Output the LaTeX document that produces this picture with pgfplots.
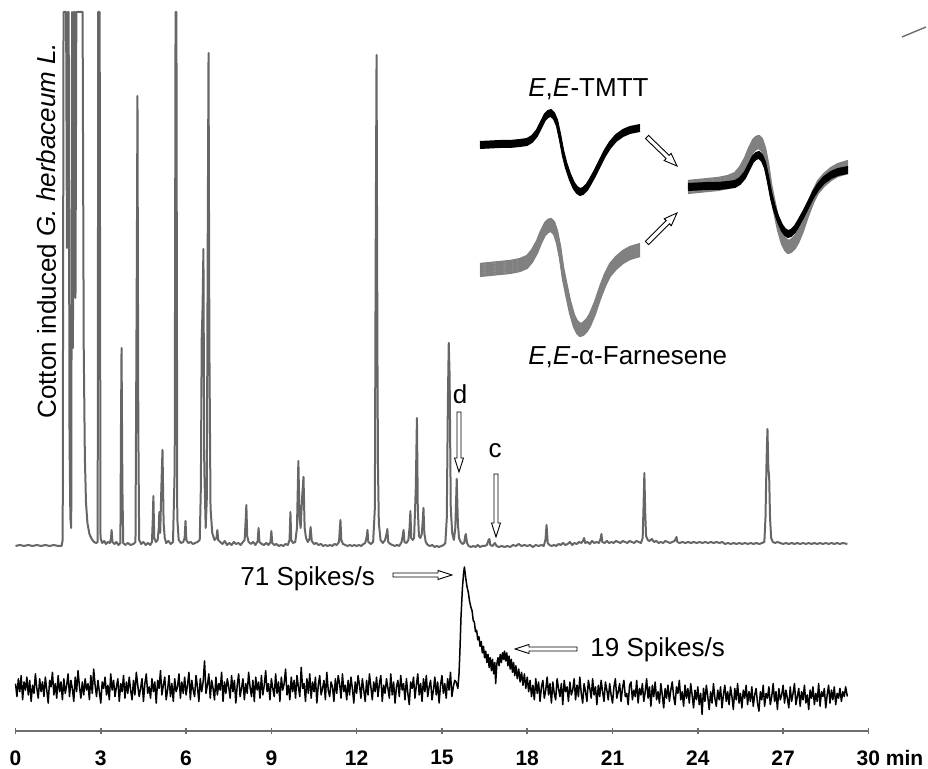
\documentclass[border=0pt]{standalone}
\usepackage{fontspec}
\setmainfont{Liberation Sans}
\usepackage{pgfplots}
\usepackage{pgfplotstable}
\pgfplotsset{compat=1.18}

\definecolor{gctrace}{RGB}{102,102,102}
\definecolor{axisgray}{RGB}{110,110,110}
\definecolor{farngray}{RGB}{128,128,128}

% GC-FID trace: retention time (min), detector response above baseline (a.u.)
\pgfplotstableread[row sep=\\]{
t g\\
0.00 2\\ 0.15 3\\ 0.30 2\\ 0.45 3\\ 0.60 2\\ 0.75 3\\ 0.90 2\\ 1.05 3\\ 1.20 2\\ 1.35 3\\ 1.50 2\\ 1.62 2\\
1.66 8\\ 1.69 536\\ 1.78 536\\ 1.81 300\\ 1.84 536\\ 1.87 536\\ 1.90 110\\ 1.93 30\\ 1.96 20\\ 1.99 536\\
2.02 200\\ 2.05 536\\ 2.08 536\\ 2.11 250\\ 2.14 536\\ 2.36 536\\ 2.40 200\\ 2.44 90\\ 2.48 45\\ 2.53 25\\
2.60 14\\ 2.68 9\\ 2.76 6\\ 2.84 5\\ 2.89 6\\ 2.91 536\\ 2.96 536\\ 2.99 10\\ 3.05 5\\ 3.12 7\\ 3.18 4\\
3.25 6\\ 3.32 5\\ 3.36 10\\ 3.38 18\\ 3.41 6\\ 3.48 4\\ 3.55 6\\ 3.62 3\\ 3.69 5\\ 3.71 120\\ 3.73 200\\
3.76 60\\ 3.79 5\\ 3.86 3\\ 3.95 5\\ 4.05 3\\ 4.15 4\\ 4.22 6\\ 4.27 300\\ 4.29 452\\ 4.32 120\\ 4.35 8\\
4.42 4\\ 4.50 6\\ 4.58 3\\ 4.66 5\\ 4.74 3\\ 4.80 6\\ 4.83 30\\ 4.85 52\\ 4.88 10\\ 4.94 6\\ 5.00 8\\
5.04 20\\ 5.06 36\\ 5.09 15\\ 5.13 60\\ 5.17 98\\ 5.21 25\\ 5.25 10\\ 5.30 5\\ 5.38 7\\ 5.46 4\\ 5.54 6\\
5.60 80\\ 5.63 536\\ 5.66 536\\ 5.69 30\\ 5.74 8\\ 5.82 5\\ 5.90 6\\ 5.95 10\\ 5.98 27\\ 6.01 8\\ 6.08 5\\
6.16 6\\ 6.24 4\\ 6.32 5\\ 6.40 6\\ 6.48 8\\ 6.52 60\\ 6.55 209\\ 6.58 240\\ 6.61 299\\ 6.64 80\\ 6.69 20\\
6.73 50\\ 6.76 300\\ 6.79 495\\ 6.82 200\\ 6.86 40\\ 6.92 15\\ 7.00 8\\ 7.07 10\\ 7.10 18\\ 7.13 8\\
7.20 6\\ 7.28 4\\ 7.36 7\\ 7.44 3\\ 7.52 5\\ 7.60 3\\ 7.68 6\\ 7.76 4\\ 7.84 5\\ 7.92 3\\ 8.00 6\\ 8.06 8\\
8.10 30\\ 8.12 43\\ 8.15 12\\ 8.20 6\\ 8.28 4\\ 8.36 6\\ 8.44 3\\ 8.52 7\\ 8.55 20\\ 8.58 6\\ 8.66 4\\
8.74 3\\ 8.82 5\\ 8.90 3\\ 8.97 6\\ 9.00 17\\ 9.03 5\\ 9.10 3\\ 9.18 4\\ 9.26 2\\ 9.34 3\\ 9.42 2\\ 9.50 4\\
9.58 3\\ 9.64 8\\ 9.67 36\\ 9.70 8\\ 9.76 5\\ 9.84 6\\ 9.90 20\\ 9.95 87\\ 9.99 30\\ 10.03 20\\ 10.08 50\\
10.13 71\\ 10.17 20\\ 10.22 10\\ 10.28 6\\ 10.34 9\\ 10.38 21\\ 10.42 7\\ 10.50 4\\ 10.58 5\\ 10.66 3\\
10.74 4\\ 10.82 2\\ 10.90 3\\ 10.98 2\\ 11.06 3\\ 11.14 2\\ 11.22 4\\ 11.30 3\\ 11.38 6\\ 11.41 20\\
11.43 28\\ 11.46 8\\ 11.52 4\\ 11.60 3\\ 11.68 2\\ 11.76 3\\ 11.84 2\\ 11.92 3\\ 12.00 2\\ 12.08 3\\
12.16 2\\ 12.24 4\\ 12.30 5\\ 12.36 12\\ 12.38 18\\ 12.41 6\\ 12.50 4\\ 12.58 6\\ 12.64 40\\ 12.67 300\\
12.70 493\\ 12.73 200\\ 12.75 80\\ 12.78 25\\ 12.84 8\\ 12.92 5\\ 13.00 8\\ 13.05 14\\ 13.08 19\\ 13.11 6\\
13.18 4\\ 13.26 3\\ 13.34 2\\ 13.42 3\\ 13.50 2\\ 13.58 6\\ 13.62 12\\ 13.65 18\\ 13.68 6\\ 13.75 5\\
13.82 8\\ 13.86 20\\ 13.89 37\\ 13.92 10\\ 13.97 8\\ 14.02 10\\ 14.08 60\\ 14.12 130\\ 14.15 40\\ 14.19 12\\
14.24 10\\ 14.29 14\\ 14.32 25\\ 14.35 40\\ 14.38 15\\ 14.43 6\\ 14.50 3\\ 14.58 2\\ 14.66 3\\ 14.74 1\\
14.82 2\\ 14.90 1\\ 14.98 2\\ 15.06 3\\ 15.12 5\\ 15.17 30\\ 15.21 150\\ 15.24 205\\ 15.27 172\\ 15.31 40\\
15.36 15\\ 15.42 8\\ 15.47 20\\ 15.52 69\\ 15.56 25\\ 15.60 10\\ 15.66 6\\ 15.72 4\\ 15.78 5\\ 15.82 12\\
15.84 14\\ 15.88 5\\ 15.94 2\\ 16.02 1\\ 16.10 2\\ 16.18 1\\ 16.26 3\\ 16.34 1\\ 16.42 2\\ 16.50 2\\
16.58 3\\ 16.64 8\\ 16.67 9\\ 16.70 3\\ 16.78 2\\ 16.86 5\\ 16.88 4\\ 16.92 2\\ 17.00 1\\ 17.10 2\\
17.20 1\\ 17.30 2\\ 17.40 1\\ 17.50 3\\ 17.60 2\\ 17.70 4\\ 17.80 2\\ 17.90 3\\ 18.00 2\\ 18.10 3\\
18.20 1\\ 18.30 3\\ 18.40 2\\ 18.50 3\\ 18.58 2\\ 18.64 8\\ 18.68 23\\ 18.72 5\\ 18.78 3\\ 18.86 2\\
18.94 3\\ 19.02 2\\ 19.10 4\\ 19.18 3\\ 19.26 5\\ 19.34 3\\ 19.42 4\\ 19.50 6\\ 19.58 3\\ 19.66 5\\
19.74 4\\ 19.82 6\\ 19.90 5\\ 19.96 7\\ 20.00 10\\ 20.04 5\\ 20.12 6\\ 20.20 4\\ 20.28 7\\ 20.36 5\\
20.44 6\\ 20.52 5\\ 20.58 9\\ 20.61 14\\ 20.64 6\\ 20.72 5\\ 20.80 7\\ 20.88 5\\ 20.96 6\\ 21.04 5\\
21.12 7\\ 21.20 6\\ 21.28 5\\ 21.36 7\\ 21.44 6\\ 21.52 5\\ 21.60 7\\ 21.68 6\\ 21.76 5\\ 21.84 7\\
21.92 6\\ 22.00 5\\ 22.06 10\\ 22.09 40\\ 22.12 75\\ 22.15 35\\ 22.18 12\\ 22.24 8\\ 22.30 7\\ 22.38 9\\
22.46 6\\ 22.54 7\\ 22.62 5\\ 22.70 6\\ 22.78 5\\ 22.86 7\\ 22.94 6\\ 23.02 5\\ 23.10 6\\ 23.18 7\\
23.22 9\\ 23.25 11\\ 23.28 6\\ 23.36 5\\ 23.46 6\\ 23.56 5\\ 23.66 6\\ 23.76 5\\ 23.86 6\\ 23.96 5\\
24.06 6\\ 24.16 5\\ 24.26 6\\ 24.36 5\\ 24.46 6\\ 24.56 5\\ 24.66 6\\ 24.76 5\\ 24.86 6\\ 24.96 4\\
25.06 5\\ 25.16 4\\ 25.26 5\\ 25.36 4\\ 25.46 5\\ 25.56 4\\ 25.66 5\\ 25.76 4\\ 25.86 5\\ 25.96 4\\
26.06 5\\ 26.16 4\\ 26.26 5\\ 26.34 6\\ 26.38 30\\ 26.42 90\\ 26.45 119\\ 26.48 80\\ 26.51 71\\ 26.54 30\\
26.58 10\\ 26.64 6\\ 26.72 5\\ 26.80 6\\ 26.90 5\\ 27.00 4\\ 27.10 5\\ 27.20 4\\ 27.30 5\\ 27.40 4\\
27.50 5\\ 27.60 4\\ 27.70 5\\ 27.80 4\\ 27.90 5\\ 28.00 4\\ 28.10 5\\ 28.20 4\\ 28.30 5\\ 28.40 4\\
28.50 5\\ 28.60 4\\ 28.70 5\\ 28.80 4\\ 28.90 5\\ 29.00 4\\ 29.10 5\\ 29.26 4\\
}\gcdata

% Single-sensillum recording: firing rate relative to baseline (spikes/s)
\pgfplotstableread[row sep=\\]{
t r\\
0.00 -1\\ 0.05 -9\\ 0.10 2\\ 0.15 -6\\ 0.20 4\\ 0.25 -11\\ 0.30 0\\ 0.35 -5\\ 0.40 3\\ 0.45 -8\\
0.50 1\\ 0.55 -12\\ 0.60 -2\\ 0.65 -7\\ 0.70 5\\ 0.75 -4\\ 0.80 -10\\ 0.85 2\\ 0.90 -6\\ 0.95 0\\
1.00 -9\\ 1.05 3\\ 1.10 -5\\ 1.15 -13\\ 1.20 1\\ 1.25 -3\\ 1.30 6\\ 1.35 -8\\ 1.40 -1\\ 1.45 -10\\
1.50 4\\ 1.55 -6\\ 1.60 0\\ 1.65 -11\\ 1.70 2\\ 1.75 -7\\ 1.80 -2\\ 1.85 5\\ 1.90 -9\\ 1.95 1\\
2.00 -4\\ 2.05 -12\\ 2.10 3\\ 2.15 -6\\ 2.20 7\\ 2.25 -3\\ 2.30 -10\\ 2.35 0\\ 2.40 -8\\ 2.45 2\\
2.50 -5\\ 2.55 -1\\ 2.60 -11\\ 2.65 4\\ 2.70 -7\\ 2.75 8\\ 2.80 -2\\ 2.85 -9\\ 2.90 1\\ 2.95 -6\\
3.00 -13\\ 3.05 0\\ 3.10 -4\\ 3.15 3\\ 3.20 -8\\ 3.25 -2\\ 3.30 -11\\ 3.35 5\\ 3.40 -5\\ 3.45 1\\
3.50 -9\\ 3.55 -3\\ 3.60 2\\ 3.65 -12\\ 3.70 -1\\ 3.75 -6\\ 3.80 4\\ 3.85 -10\\ 3.90 0\\ 3.95 -7\\
4.00 3\\ 4.05 -5\\ 4.10 -11\\ 4.15 1\\ 4.20 -8\\ 4.25 6\\ 4.30 -2\\ 4.35 -9\\ 4.40 -4\\ 4.45 2\\
4.50 -12\\ 4.55 -1\\ 4.60 5\\ 4.65 -7\\ 4.70 -3\\ 4.75 -10\\ 4.80 2\\ 4.85 -6\\ 4.90 0\\ 4.95 -13\\
5.00 1\\ 5.05 -4\\ 5.10 7\\ 5.15 -8\\ 5.20 -2\\ 5.25 3\\ 5.30 -11\\ 5.35 -5\\ 5.40 4\\ 5.45 -9\\
5.50 -1\\ 5.55 -12\\ 5.60 2\\ 5.65 -6\\ 5.70 -3\\ 5.75 5\\ 5.80 -10\\ 5.85 0\\ 5.90 -7\\ 5.95 3\\
6.00 -8\\ 6.05 -2\\ 6.10 6\\ 6.15 -11\\ 6.20 1\\ 6.25 -5\\ 6.30 -9\\ 6.35 4\\ 6.40 -3\\ 6.45 -12\\
6.50 2\\ 6.55 -6\\ 6.60 0\\ 6.65 13\\ 6.70 -7\\ 6.75 -2\\ 6.80 5\\ 6.85 -10\\ 6.90 1\\ 6.95 -4\\
7.00 -11\\ 7.05 3\\ 7.10 -8\\ 7.15 -1\\ 7.20 -5\\ 7.25 6\\ 7.30 -12\\ 7.35 0\\ 7.40 -7\\ 7.45 2\\
7.50 -3\\ 7.55 -10\\ 7.60 4\\ 7.65 -6\\ 7.70 1\\ 7.75 -13\\ 7.80 -2\\ 7.85 5\\ 7.90 -9\\ 7.95 -4\\
8.00 2\\ 8.05 -11\\ 8.10 -1\\ 8.15 -7\\ 8.20 6\\ 8.25 -3\\ 8.30 -9\\ 8.35 1\\ 8.40 -12\\ 8.45 3\\
8.50 -5\\ 8.55 0\\ 8.60 -10\\ 8.65 4\\ 8.70 -8\\ 8.75 -2\\ 8.80 7\\ 8.85 -6\\ 8.90 -1\\ 8.95 -11\\
9.00 2\\ 9.05 -4\\ 9.10 -9\\ 9.15 5\\ 9.20 -7\\ 9.25 0\\ 9.30 -12\\ 9.35 3\\ 9.40 -5\\ 9.45 -1\\
9.50 8\\ 9.55 -8\\ 9.60 -2\\ 9.65 -11\\ 9.70 3\\ 9.75 -6\\ 9.80 1\\ 9.85 -10\\ 9.90 4\\ 9.95 -3\\
10.00 -9\\ 10.05 9\\ 10.10 -4\\ 10.15 -1\\ 10.20 -12\\ 10.25 2\\ 10.30 -7\\ 10.35 5\\ 10.40 -10\\ 10.45 0\\
10.50 -6\\ 10.55 3\\ 10.60 -13\\ 10.65 -2\\ 10.70 4\\ 10.75 -8\\ 10.80 -4\\ 10.85 1\\ 10.90 -11\\ 10.95 6\\
11.00 -5\\ 11.05 -9\\ 11.10 0\\ 11.15 -3\\ 11.20 -12\\ 11.25 2\\ 11.30 -7\\ 11.35 4\\ 11.40 -1\\ 11.45 -10\\
11.50 5\\ 11.55 -6\\ 11.60 -2\\ 11.65 -11\\ 11.70 1\\ 11.75 -8\\ 11.80 3\\ 11.85 -4\\ 11.90 -13\\ 11.95 0\\
12.00 -7\\ 12.05 4\\ 12.10 -2\\ 12.15 -10\\ 12.20 2\\ 12.25 -5\\ 12.30 -12\\ 12.35 1\\ 12.40 -8\\ 12.45 5\\
12.50 -3\\ 12.55 -11\\ 12.60 0\\ 12.65 -6\\ 12.70 3\\ 12.75 -9\\ 12.80 -1\\ 12.85 4\\ 12.90 -12\\ 12.95 -2\\
13.00 -7\\ 13.05 2\\ 13.10 -4\\ 13.15 -10\\ 13.20 5\\ 13.25 -8\\ 13.30 0\\ 13.35 -13\\ 13.40 -3\\ 13.45 1\\
13.50 -9\\ 13.55 4\\ 13.60 -5\\ 13.65 -1\\ 13.70 -11\\ 13.75 2\\ 13.80 -7\\ 13.85 -14\\ 13.90 0\\ 13.95 -4\\
14.00 3\\ 14.05 -10\\ 14.10 -2\\ 14.15 5\\ 14.20 -8\\ 14.25 -1\\ 14.30 -12\\ 14.35 2\\ 14.40 -6\\ 14.45 4\\
14.50 -9\\ 14.55 -3\\ 14.60 1\\ 14.65 -11\\ 14.70 -5\\ 14.75 3\\ 14.80 -8\\ 14.85 0\\ 14.90 -13\\ 14.95 -2\\
15.00 4\\ 15.05 -7\\ 15.10 -1\\ 15.15 -10\\ 15.20 2\\ 15.25 -5\\ 15.30 6\\ 15.35 -9\\ 15.40 -3\\ 15.45 1\\
15.50 0\\ 15.56 -4\\ 15.60 5\\ 15.63 18\\ 15.67 40\\ 15.72 58\\ 15.76 67\\ 15.79 71\\ 15.83 65\\ 15.88 59\\
15.93 55\\ 15.97 50\\ 16.02 46\\ 16.06 44\\ 16.10 38\\ 16.14 37\\ 16.18 31\\ 16.22 32\\ 16.26 26\\ 16.30 28\\
16.34 22\\ 16.38 25\\ 16.42 18\\ 16.46 22\\ 16.50 15\\ 16.54 19\\ 16.58 12\\ 16.62 17\\ 16.66 9\\ 16.70 15\\
16.74 7\\ 16.78 14\\ 16.82 5\\ 16.86 12\\ 16.89 -1\\ 16.93 11\\ 16.97 15\\ 17.01 10\\ 17.05 17\\ 17.09 12\\
17.13 18\\ 17.17 14\\ 17.20 19\\ 17.24 13\\ 17.28 18\\ 17.32 10\\ 17.36 16\\ 17.40 8\\ 17.44 14\\ 17.48 6\\
17.52 12\\ 17.56 4\\ 17.60 10\\ 17.65 2\\ 17.70 8\\ 17.75 0\\ 17.80 6\\ 17.85 -2\\ 17.90 5\\ 17.95 -4\\
18.00 3\\ 18.05 -6\\ 18.10 1\\ 18.15 -9\\ 18.20 -2\\ 18.25 -11\\ 18.30 2\\ 18.35 -7\\ 18.40 0\\ 18.45 -12\\
18.50 -3\\ 18.55 1\\ 18.60 -10\\ 18.65 -5\\ 18.70 3\\ 18.75 -8\\ 18.80 -1\\ 18.85 -13\\ 18.90 0\\ 18.95 -7\\
19.00 -11\\ 19.05 2\\ 19.10 -4\\ 19.15 -9\\ 19.20 -1\\ 19.25 -14\\ 19.30 1\\ 19.35 -6\\ 19.40 -3\\ 19.45 -12\\
19.50 0\\ 19.55 -8\\ 19.60 -5\\ 19.65 2\\ 19.70 -11\\ 19.75 -2\\ 19.80 -9\\ 19.85 3\\ 19.90 -7\\ 19.95 -13\\
20.00 -1\\ 20.05 -6\\ 20.10 -12\\ 20.15 1\\ 20.20 -4\\ 20.25 -10\\ 20.30 2\\ 20.35 -8\\ 20.40 -3\\ 20.45 -14\\
20.50 -2\\ 20.55 -9\\ 20.60 1\\ 20.65 -6\\ 20.70 -12\\ 20.75 0\\ 20.80 -5\\ 20.85 -11\\ 20.90 -1\\ 20.95 -8\\
21.00 -13\\ 21.05 -3\\ 21.10 2\\ 21.15 -10\\ 21.20 -6\\ 21.25 -1\\ 21.30 -12\\ 21.35 -4\\ 21.40 1\\ 21.45 -9\\
21.50 -7\\ 21.55 -14\\ 21.60 -2\\ 21.65 0\\ 21.70 -11\\ 21.75 -5\\ 21.80 -9\\ 21.85 1\\ 21.90 -13\\ 21.95 -4\\
22.00 -8\\ 22.05 -1\\ 22.10 -12\\ 22.15 -6\\ 22.20 2\\ 22.25 -10\\ 22.30 -3\\ 22.35 -15\\ 22.40 -2\\ 22.45 -9\\
22.50 0\\ 22.55 -11\\ 22.60 -6\\ 22.65 -13\\ 22.70 -1\\ 22.75 -8\\ 22.80 -16\\ 22.85 -4\\ 22.90 -10\\ 22.95 -2\\
23.00 -12\\ 23.05 -5\\ 23.10 0\\ 23.15 -9\\ 23.20 -14\\ 23.25 -3\\ 23.30 -7\\ 23.35 1\\ 23.40 -11\\ 23.45 -6\\
23.50 -15\\ 23.55 -2\\ 23.60 -10\\ 23.65 -4\\ 23.70 -13\\ 23.75 -1\\ 23.80 -8\\ 23.85 -16\\ 23.90 -5\\ 23.95 -11\\
24.00 -3\\ 24.05 -14\\ 24.10 -7\\ 24.15 -20\\ 24.20 -4\\ 24.25 -12\\ 24.30 -2\\ 24.35 -9\\ 24.40 -17\\ 24.45 -6\\
24.50 -13\\ 24.55 -1\\ 24.60 -10\\ 24.65 -15\\ 24.70 -5\\ 24.75 -11\\ 24.80 -3\\ 24.85 -16\\ 24.90 -8\\ 24.95 -2\\
25.00 -12\\ 25.05 -6\\ 25.10 -14\\ 25.15 -3\\ 25.20 -9\\ 25.25 -17\\ 25.30 -4\\ 25.35 -11\\ 25.40 -1\\ 25.45 -13\\
25.50 -7\\ 25.55 -16\\ 25.60 -5\\ 25.65 -10\\ 25.70 -2\\ 25.75 -14\\ 25.80 -6\\ 25.85 -12\\ 25.90 -3\\ 25.95 -15\\
26.00 -8\\ 26.05 -4\\ 26.10 -13\\ 26.15 -18\\ 26.20 -6\\ 26.25 -11\\ 26.30 -2\\ 26.35 -15\\ 26.40 -7\\ 26.45 -10\\
26.50 -3\\ 26.55 -14\\ 26.60 -9\\ 26.65 -1\\ 26.70 -12\\ 26.75 -6\\ 26.80 -17\\ 26.85 -4\\ 26.90 -11\\ 26.95 -8\\
27.00 -2\\ 27.05 -13\\ 27.10 -5\\ 27.15 -10\\ 27.20 -16\\ 27.25 -3\\ 27.30 -12\\ 27.35 -7\\ 27.40 -1\\ 27.45 -14\\
27.50 -9\\ 27.55 -4\\ 27.60 -15\\ 27.65 -6\\ 27.70 -11\\ 27.75 -2\\ 27.80 -13\\ 27.85 -8\\ 27.90 -17\\ 27.95 -5\\
28.00 -10\\ 28.05 -3\\ 28.10 -14\\ 28.15 -7\\ 28.20 -12\\ 28.25 -1\\ 28.30 -15\\ 28.35 -6\\ 28.40 -9\\ 28.45 -4\\
28.50 -16\\ 28.55 -8\\ 28.60 -2\\ 28.65 -13\\ 28.70 -5\\ 28.75 -11\\ 28.80 -3\\ 28.85 -14\\ 28.90 -7\\ 28.95 -10\\
29.00 -4\\ 29.05 -12\\ 29.10 -6\\ 29.15 -9\\ 29.20 -3\\ 29.26 -9\\
}\spkdata

% Mean spike waveforms (sample, amplitude)
\pgfplotstableread[row sep=\\]{
s a\\
0 0\\ 10 0.5\\ 20 1\\ 30 1\\ 40 2\\ 47 3\\ 52 6\\ 57 12\\ 61 20\\ 65 28\\ 68 31\\ 71 32\\ 74 29\\
77 22\\ 80 8\\ 83 -8\\ 86 -20\\ 90 -32\\ 94 -41\\ 97 -45\\ 100 -47\\ 103 -46\\ 107 -42\\ 110 -37\\
115 -28\\ 120 -18\\ 125 -8\\ 130 0\\ 136 7\\ 143 12\\ 150 15\\ 160 17\\
}\wtmtt
\pgfplotstableread[row sep=\\]{
s a\\
0 0\\ 10 1\\ 20 2\\ 30 3\\ 40 5\\ 47 8\\ 52 14\\ 57 23\\ 61 33\\ 65 41\\ 68 44\\ 71 45\\ 74 42\\
77 33\\ 80 18\\ 83 -3\\ 86 -18\\ 90 -37\\ 94 -51\\ 97 -57\\ 100 -60\\ 103 -59\\ 107 -55\\ 110 -50\\
115 -38\\ 120 -23\\ 125 -10\\ 130 0\\ 136 7\\ 143 13\\ 150 17\\ 160 20\\
}\wfarn

\pgfplotsset{
  wave/.style={hide axis, clip=false, anchor=south west,
    x=0.5pt, y=0.5pt, xmin=0, xmax=160, ymin=-70, ymax=60},
}
% overlaid traces of one spike class, shifted up and down to form a band
\newcommand{\tmttband}{%
  \foreach \off in {-3,-1.5,0,1.5,3} {%
    \addplot[black, line width=1pt, line join=round] table[x=s, y expr=\thisrow{a}+\off] {\wtmtt};
  }%
}
\newcommand{\farnband}{%
  \foreach \off in {-6,-4,-2,0,2,4,6} {%
    \addplot[farngray, line width=1.1pt, line join=round] table[x=s, y expr=\thisrow{a}+\off] {\wfarn};
  }%
}

\begin{document}
\begin{tikzpicture}
\begin{axis}[
  x=14.215pt, y=0.5pt,
  xmin=0, xmax=30, ymin=38, ymax=769,
  axis x line=bottom, axis y line=none,
  x axis line style={-, draw=axisgray, line width=1pt},
  ytick=\empty,
  xtick={0,3,...,30},
  xticklabels={\textbf{0},\textbf{3},\textbf{6},\textbf{9},\textbf{12},\textbf{15},
    \textbf{18},\textbf{21},\textbf{24},\textbf{27},{\textbf{30}\rlap{\textbf{\ min}}}},
  major tick length=3pt, tick align=center,
  tick style={draw=axisgray, line width=0.8pt},
  xticklabel style={font=\fontsize{10.5}{12}\selectfont, inner sep=0pt, anchor=north, yshift=-8pt},
  clip=false,
]
\addplot[gctrace, line width=1pt, line join=round] table[x=t, y expr=221+\thisrow{g}] {\gcdata};
\addplot[black, line width=0.75pt, line join=round] table[x=t, y expr=87+1.62*\thisrow{r}] {\spkdata};
\end{axis}

% spike waveform insets
\begin{axis}[wave, at={(232.25pt,258pt)}]
  \tmttband
\end{axis}
\begin{axis}[wave, at={(232.25pt,195.5pt)}]
  \farnband
\end{axis}
\begin{axis}[wave, at={(336.25pt,237pt)}]
  \farnband
  \tmttband
\end{axis}

% annotations, placed on a grid whose origin is the figure's top-left corner
\begin{scope}[x=0.5pt, y=-0.5pt, shift={(-7.75pt,365.5pt)}]
  \node[rotate=90, anchor=base west, inner sep=0pt, font=\fontsize{13}{15}\selectfont]
    at (56,419) {Cotton induced \textit{G. herbaceum L.}};
  \node[anchor=base west, inner sep=0pt, font=\fontsize{13}{15}\selectfont]
    at (528,97) {\textit{E},\textit{E}-TMTT};
  \node[anchor=base west, inner sep=0pt, font=\fontsize{13}{15}\selectfont]
    at (528,365) {\textit{E},\textit{E}-α-Farnesene};
  \node[anchor=base, inner sep=0pt, font=\fontsize{13}{15}\selectfont] at (460,404) {d};
  \node[anchor=base, inner sep=0pt, font=\fontsize{13}{15}\selectfont] at (495,458) {c};
  \node[anchor=base west, inner sep=0pt, font=\fontsize{13}{15}\selectfont] at (240,586) {71 Spikes/s};
  \node[anchor=base west, inner sep=0pt, font=\fontsize{13}{15}\selectfont] at (590,657) {19 Spikes/s};

  \begin{scope}[draw=black, fill=white, line width=0.45pt, line join=miter]
    % d and c markers
    \filldraw (457,412) -- (457,458) -- (454.5,458) -- (459,472) -- (463.5,458) -- (461,458) -- (461,412) -- cycle;
    \filldraw (494,474) -- (494,523) -- (491.5,523) -- (496,537) -- (500.5,523) -- (498,523) -- (498,474) -- cycle;
    % response labels
    \filldraw (393,573) -- (438,573) -- (438,570.5) -- (452,575) -- (438,579.5) -- (438,577) -- (393,577) -- cycle;
    \filldraw (577,647) -- (529,647) -- (529,644.5) -- (515,649) -- (529,653.5) -- (529,651) -- (577,651) -- cycle;
    % merging of the two spike classes
    \filldraw (645.5,138.6) -- (666.1,158.5) -- (664.2,160.6) -- (677,166) -- (671.1,153.4) -- (669.2,155.4) -- (648.5,135.4) -- cycle;
    \filldraw (648.6,244.6) -- (669.4,223.8) -- (671.3,225.7) -- (677,213) -- (664.3,218.7) -- (666.2,220.6) -- (645.4,241.4) -- cycle;
  \end{scope}
  \draw[axisgray, line width=0.7pt] (902,37) -- (926,27);

  \pgfresetboundingbox
  \path[use as bounding box] (0,0) rectangle (928,769);
\end{scope}
\end{tikzpicture}
\end{document}
